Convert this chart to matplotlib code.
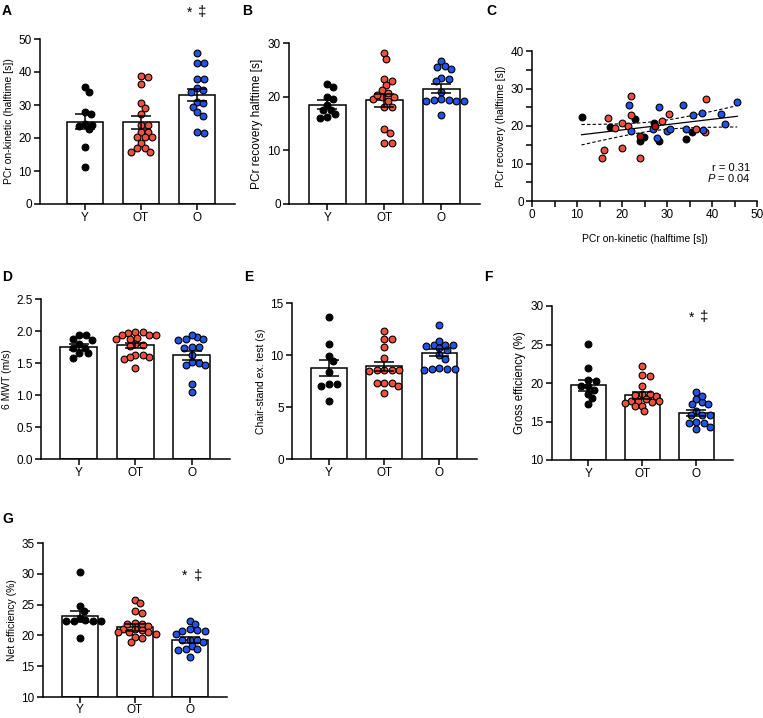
import numpy as np
import matplotlib.pyplot as plt

plt.rcParams['font.family'] = ['Liberation Sans', 'DejaVu Sans']
plt.rcParams['mathtext.fontset'] = 'custom'
plt.rcParams['mathtext.it'] = 'Liberation Sans:italic'
plt.rcParams['mathtext.rm'] = 'Liberation Sans'

# groups
cats = ['Y', 'OT', 'O']
colors = ['black', '#f2503f', '#2352e6']

# A - PCr on-kinetic
A_Y = [35.5, 34.0, 28.0, 27.3, 24.2, 24.0, 23.5, 22.6, 17.4, 11.1]
A_OT = [38.8, 38.6, 36.4, 30.5, 29.0, 27.3, 23.9, 23.9, 21.9, 21.9, 20.2, 20.2, 20.2, 18.6, 16.9, 16.9, 15.7, 15.9]
A_O = [45.7, 42.6, 42.8, 37.9, 37.9, 35.0, 34.5, 34.0, 31.0, 29.5, 30.5, 28.0, 26.8, 21.6, 21.9]
A_mean = [24.9, 24.7, 33.0]
A_sem = [2.3, 2.0, 1.8]

# B - PCr recovery
B_Y = [22.4, 21.8, 19.5, 20.0, 17.5, 17.6, 18.5, 16.7, 16.0, 16.2]
B_OT = [28.1, 27.0, 23.2, 22.9, 22.1, 21.2, 20.6, 20.0, 20.0, 19.2, 19.5, 18.1, 18.1, 13.9, 13.3, 11.3, 11.3, 20.4]
B_O = [26.6, 25.7, 25.5, 25.1, 23.5, 23.2, 22.9, 20.9, 19.5, 19.2, 19.2, 19.2, 19.4, 19.4, 16.6]
B_mean = [18.5, 19.3, 21.5]
B_sem = [0.8, 1.2, 0.9]

# C - on-kinetic vs recovery
C_x = [11.0, 17.3, 22.9, 24.0, 24.9, 27.2, 28.2, 34.2, 35.6,
       16.9, 18.5, 20.0, 19.9, 16.0, 15.6, 21.9, 21.9, 21.4, 24.0, 28.9, 30.5, 36.4, 38.7, 38.5,
       21.5, 22.1, 26.9, 27.8, 28.3, 29.9, 30.7, 33.6, 34.3, 35.8, 37.7, 37.9, 42.1, 42.8, 45.6,
       24.0, 27.3]
C_y = [22.5, 19.7, 21.9, 16.0, 17.2, 20.7, 16.1, 16.6, 18.3,
       22.1, 19.4, 20.8, 14.1, 13.5, 11.5, 28.1, 23.0, 20.0, 11.4, 21.3, 23.2, 19.1, 27.1, 18.4,
       25.5, 18.7, 19.2, 16.7, 25.0, 18.7, 19.1, 25.6, 19.2, 22.9, 23.5, 18.9, 23.3, 20.5, 26.5,
       17.4, 20.1]
C_g = ['Y'] * 9 + ['OT'] * 15 + ['O'] * 15 + ['X'] * 2
C_r = 'r = 0.31'
C_p = '$\\mathit{P}$ = 0.04'

# D - 6 MWT
D_Y = [1.93, 1.94, 1.88, 1.86, 1.80, 1.73, 1.73, 1.65, 1.65, 1.58]
D_OT = [1.97, 1.93, 1.94, 1.98, 1.98, 1.94, 1.88, 1.87, 1.89, 1.80, 1.78, 1.76, 1.63, 1.59, 1.56, 1.59, 1.62, 1.42]
D_O = [1.90, 1.87, 1.87, 1.94, 1.86, 1.75, 1.75, 1.73, 1.63, 1.50, 1.52, 1.47, 1.47, 1.17, 1.05]
D_mean = [1.75, 1.78, 1.62]
D_sem = [0.04, 0.04, 0.07]

# E - chair stand
E_Y = [13.7, 11.1, 9.9, 9.4, 8.4, 7.2, 7.05, 7.2, 5.6]
E_OT = [12.3, 11.5, 11.5, 10.8, 9.7, 8.6, 8.5, 8.55, 8.55, 8.6, 7.35, 7.3, 7.3, 7.0, 6.3]
E_O = [12.9, 11.0, 10.85, 10.95, 10.95, 11.35, 10.7, 10.45, 10.0, 8.7, 8.78, 8.7, 8.7, 8.55, 9.65]
E_mean = [8.75, 8.9, 10.2]
E_sem = [0.75, 0.45, 0.33]

# F - gross efficiency
F_Y = [25.1, 22.0, 20.45, 20.3, 19.6, 19.6, 19.1, 18.6, 18.0, 17.25]
F_OT = [22.2, 21.0, 20.9, 19.6, 18.3, 18.55, 18.55, 18.4, 17.7, 17.7, 17.55, 17.7, 17.35, 17.05, 17.05, 16.3, 17.9]
F_O = [18.8, 17.9, 17.5, 17.3, 18.3, 17.25, 16.35, 15.85, 15.85, 15.85, 14.85, 14.95, 14.3, 14.75, 13.97]
F_mean = [19.7, 18.4, 16.1]
F_sem = [0.7, 0.45, 0.4]

# G - net efficiency
G_Y = [30.3, 24.8, 24.0, 22.4, 22.4, 22.5, 22.4, 22.3, 22.9, 19.6]
G_OT = [25.7, 25.3, 23.9, 23.7, 21.9, 21.0, 21.55, 21.8, 21.0, 20.5, 20.6, 20.5, 20.3, 19.8, 19.6, 18.9, 22.0, 20.8]
G_O = [22.3, 21.9, 21.0, 20.9, 20.3, 20.75, 20.65, 19.25, 19.25, 18.9, 19.25, 18.3, 17.8, 17.6, 17.8, 16.45]
G_mean = [23.1, 21.3, 19.2]
G_sem = [0.9, 0.6, 0.5]

W, H = 763, 718
fig = plt.figure(figsize=(W / 100, H / 100), dpi=100)
LW = 1.1


def add_ax(l, r, t, b):
    return fig.add_axes([l / W, 1 - b / H, (r - l) / W, (b - t) / H])


def swarm(vals, xpx, ypx, d=7.6, squeeze=0.78):
    """beeswarm offsets (data units) so dots don't overlap too much"""
    vals = np.asarray(vals, float)
    offs = np.zeros(len(vals))
    placed = []
    step = d / 4
    cands = [0.0]
    for k in range(1, 40):
        cands += [k * step, -k * step]
    lim = (d * squeeze) ** 2
    for i in np.argsort(-vals):
        y = vals[i] * ypx
        for c in cands:
            if all((c - px) ** 2 + (y - py) ** 2 >= lim for px, py in placed):
                break
        placed.append((c, y))
        offs[i] = c / xpx
    return offs


def style(ax):
    for s in ['top', 'right']:
        ax.spines[s].set_visible(False)
    for s in ['left', 'bottom']:
        ax.spines[s].set_linewidth(LW)
    ax.tick_params(direction='out', length=4, width=LW, labelsize=8.5, pad=2)


def bar_panel(box, groups, means, sems, ylim, yticks, ylabel, xl=-0.67, xr=2.68, lsize=7.5):
    ax = add_ax(*box)
    x = np.arange(3)
    ax.bar(x, np.array(means) - ylim[0], bottom=ylim[0], width=0.65, color='white',
           edgecolor='black', linewidth=LW, zorder=2)
    xpx = (box[1] - box[0]) / (xr - xl)
    ypx = (box[3] - box[2]) / (ylim[1] - ylim[0])
    for i, vals in enumerate(groups):
        off = swarm(vals, xpx, ypx)
        ax.scatter(i + off, vals, s=24, c=colors[i], edgecolors='black',
                   linewidths=0.8, zorder=3, clip_on=False)
    ax.errorbar(x, means, yerr=sems, fmt='none', ecolor='black', elinewidth=LW,
                capsize=7.5, capthick=LW, zorder=4)
    ax.set_xlim(xl, xr)
    ax.set_ylim(*ylim)
    ax.set_yticks(yticks)
    ax.set_xticks(x)
    ax.set_xticklabels(cats)
    ax.set_ylabel(ylabel, fontsize=lsize, labelpad=3)
    style(ax)
    return ax


bar_panel((40, 235, 39, 204), [A_Y, A_OT, A_O], A_mean, A_sem, (0, 50),
          [0, 10, 20, 30, 40, 50], 'PCr on-kinetic (halftime [s])', xl=-0.8)
bar_panel((289, 480, 43, 204), [B_Y, B_OT, B_O], B_mean, B_sem, (0, 30),
          [0, 10, 20, 30], 'PCr recovery halftime [s]', lsize=8.6)
axD = bar_panel((41, 230, 299, 459), [D_Y, D_OT, D_O], D_mean, D_sem, (0, 2.5),
                [0, 0.5, 1.0, 1.5, 2.0, 2.5], '6 MWT (m/s)')
axD.set_yticklabels(['0.0', '0.5', '1.0', '1.5', '2.0', '2.5'])
bar_panel((292, 477, 303, 459), [E_Y, E_OT, E_O], E_mean, E_sem, (0, 15),
          [0, 5, 10, 15], 'Chair-stand ex. test (s)')
bar_panel((552, 733, 306, 460), [F_Y, F_OT, F_O], F_mean, F_sem, (10, 30),
          [10, 15, 20, 25, 30], 'Gross efficiency (%)', lsize=8.3)
axG = bar_panel((43, 227, 543, 697), [G_Y, G_OT, G_O], G_mean, G_sem, (10, 35),
                [10, 15, 20, 25, 30, 35], 'Net efficiency (%)')
axG.tick_params(axis='x', pad=1)

# C scatter with regression
axC = add_ax(532, 757, 51, 201)
cmap = {'Y': 'black', 'OT': colors[1], 'O': colors[2], 'X': '#b01010'}
cx = np.array(C_x)
cy = np.array(C_y)
for g in ['Y', 'OT', 'O', 'X']:
    m = np.array([c == g for c in C_g])
    axC.scatter(cx[m], cy[m], s=24, c=cmap[g], edgecolors='black', linewidths=0.8, zorder=3)
n = len(cx)
slope, icpt = np.polyfit(cx, cy, 1)
xf = np.linspace(cx.min(), cx.max(), 100)
yf = slope * xf + icpt
resid = cy - (slope * cx + icpt)
s_err = np.sqrt(np.sum(resid ** 2) / (n - 2))
ci = 2.02 * s_err * np.sqrt(1 / n + (xf - cx.mean()) ** 2 / np.sum((cx - cx.mean()) ** 2))
axC.plot(xf, yf, color='black', lw=0.9, zorder=2)
axC.plot(xf, yf + ci, color='black', lw=0.8, ls=(0, (3, 2)), zorder=2)
axC.plot(xf, yf - ci, color='black', lw=0.8, ls=(0, (3, 2)), zorder=2)
axC.set_xlim(0, 50)
axC.set_ylim(0, 40)
axC.set_xticks([0, 10, 20, 30, 40, 50])
axC.set_xticks(np.arange(5, 50, 10), minor=True)
axC.set_yticks([0, 10, 20, 30, 40])
axC.set_yticks(np.arange(5, 40, 10), minor=True)
style(axC)
axC.tick_params(which='minor', direction='out', length=4, width=LW)
axC.set_xlabel('PCr on-kinetic (halftime [s])', fontsize=7.5, labelpad=9)
axC.set_ylabel('PCr recovery (halftime [s])', fontsize=7.5, labelpad=3)
axC.text(0.97, 0.2, C_r, transform=axC.transAxes, ha='right', fontsize=8)
axC.text(0.97, 0.13, C_p, transform=axC.transAxes, ha='right', fontsize=8)

# panel letters
for lab, px, py in [('A', 2, 15), ('B', 242, 15), ('C', 486, 15),
                    ('D', 2, 281), ('E', 244, 281), ('F', 484, 281), ('G', 2, 523)]:
    fig.text(px / W, 1 - py / H, lab, fontsize=10, fontweight='bold', va='baseline')

# significance marks
for px, py in [(190, 17), (692, 322), (185, 580)]:
    fig.text(px / W, 1 - py / H, '*', fontsize=10, va='baseline', ha='center')
for px, py in [(202, 16), (704, 321), (198, 580)]:
    fig.text(px / W, 1 - py / H, '\u2021', fontsize=11, va='baseline', ha='center')

fig.savefig('out.png', dpi=100)
